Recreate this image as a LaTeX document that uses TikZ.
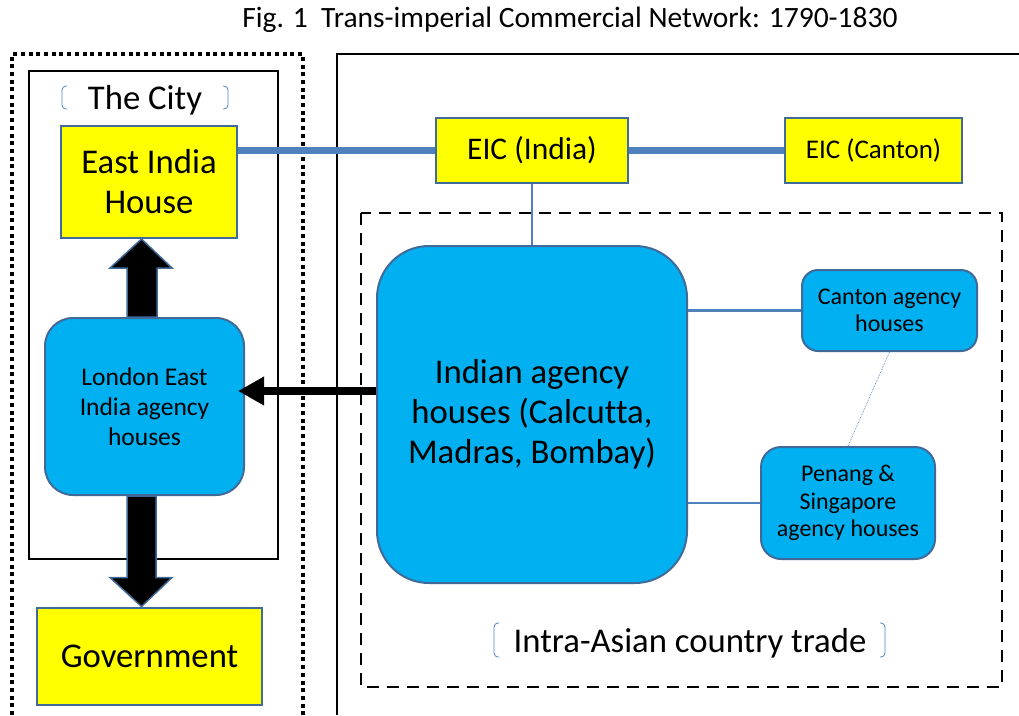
\documentclass[tikz,border=0pt]{standalone}
\usepackage{fontspec}
\setmainfont{Carlito}[Ligatures=NoCommon]
\usetikzlibrary{calc,arrows.meta}
\definecolor{boxyellow}{HTML}{FFFF00}
\definecolor{agencyblue}{HTML}{00B0F0}
\definecolor{edgeblue}{HTML}{3F6A9A}
\definecolor{linkblue}{HTML}{4F81BD}
\begin{document}
\begin{tikzpicture}[x=1pt,y=-1pt]
\tikzset{
yellow node/.style={rectangle,draw=edgeblue,line width=2pt,fill=boxyellow,inner sep=0,align=center},
agency node/.style={rectangle,rounded corners=#1,draw=edgeblue,line width=2pt,fill=agencyblue,inner sep=0,align=center},
agency node/.default=16pt,
big text/.style={font=\fontsize{34.7}{40}\selectfont},
mid text/.style={font=\fontsize{25.5}{30}\selectfont},
small text/.style={font=\fontsize{24}{27.5}\selectfont},
thick link/.style={draw=linkblue,line width=7pt},
thin link/.style={draw=linkblue,line width=2.8pt},
faint link/.style={draw=linkblue,line width=0.7pt,densely dotted},
block arrow/.style={fill=black,draw=edgeblue,line width=1.5pt,line join=miter},
flow arrow/.style={draw=black,line width=8pt,-{Triangle[length=26pt,width=27pt]}},
bracket/.style={draw=linkblue,line width=0.8pt,rounded corners=4pt},
dotted frame/.style={draw=black,line width=4pt,dash pattern=on 4pt off 3.7pt},
dashed frame/.style={draw=black,line width=2.5pt,dash pattern=on 12pt off 8pt}
}
\useasboundingbox (0,0) rectangle (1019,715);

% frames
\draw[dotted frame] (12,715) -- (12,54) -- (303,54) -- (303,715);
\draw[black,line width=2.5pt] (29,71) rectangle (278,559);
\draw[black,line width=2.5pt] (337,715) -- (337,54) -- (1019,54);
\draw[dashed frame] (361,213) rectangle (1002,687);

\node(title)[anchor=base,font=\fontsize{29.5}{34}\selectfont] at (570,27)
    {Fig. 1\ \ Trans-imperial Commercial Network: 1790-1830};

% the city side
\node(city)[anchor=base,big text] at (145,109) {The City};
\draw[bracket] ($(city.base)+(-78,-23)$) -- ++(-5,0) -- ++(0,23) -- ++(5,0);
\draw[bracket] ($(city.base)+(78,-23)$) -- ++(5,0) -- ++(0,23) -- ++(-5,0);
\node(eih)[yellow node,big text,minimum width=176pt,minimum height=112pt] at (149,182) {East India\\House};
\node(london)[agency node=28pt,mid text,minimum width=199pt,minimum height=177pt] at (144.5,406.5)
    {London East\\India agency\\houses};
\node(gov)[yellow node,big text,minimum width=225pt,minimum height=97pt] at (149.5,656) {Government};

% the company
\node(eicI)[yellow node,font=\fontsize{31.5}{36}\selectfont,minimum width=192pt,minimum height=65pt] at (532,150.5) {EIC (India)};
\node(eicC)[yellow node,font=\fontsize{27}{32}\selectfont,minimum width=177pt,minimum height=65pt] at (873.5,150.5) {EIC (Canton)};

% country trade
\node(indian)[agency node=52pt,big text,minimum width=310pt,minimum height=337pt] at (532,414.5)
    {Indian agency\\houses (Calcutta,\\Madras, Bombay)};
\node(canton)[agency node=16pt,small text,minimum width=175pt,minimum height=81pt] at (889.5,310.5)
    {Canton agency\\houses};
\node(penang)[agency node=20pt,small text,minimum width=174pt,minimum height=112pt] at (848,503)
    {Penang \&\\Singapore\\agency houses};
\node(intra)[anchor=base,big text] at (690,652) {Intra-Asian country trade};
\draw[bracket] ($(intra.base)+(-191,-29)$) -- ++(-5,0) -- ++(0,34) -- ++(5,0);
\draw[bracket] ($(intra.base)+(190,-29)$) -- ++(5,0) -- ++(0,34) -- ++(-5,0);

% links
\draw[thick link] (eicI.west) -- (eicI.west -| eih.east);
\draw[thick link] (eicI.east) -- (eicC.west);
\draw[thin link] (eicI.south) -- (indian.north);
\draw[thin link] ($(canton.north)+(4,0)$) -- ($(canton.north)+(4,0)$ |- eicC.south);
\draw[thin link] (canton.west) -- (canton.west -| indian.east);
\draw[thin link] (penang.west) -- (penang.west -| indian.east);
\draw[faint link] (canton.south) -- (penang.north);

% arrows
\draw[block arrow] let \p1=(london.north), \p2=(eih.south) in
    (\x1-17.5pt,\y1) -- (\x1-17.5pt,\y2-29pt) -- (\x1-34.5pt,\y2-29pt) -- (\x1-3pt,\y2)
    -- (\x1+27.5pt,\y2-29pt) -- (\x1+12.5pt,\y2-29pt) -- (\x1+12.5pt,\y1) -- cycle;
\draw[block arrow] let \p1=(london.south), \p2=(gov.north) in
    (\x1-17.5pt,\y1) -- (\x1-17.5pt,\y2+29pt) -- (\x1-34.5pt,\y2+29pt) -- (\x1-3pt,\y2)
    -- (\x1+27.5pt,\y2+29pt) -- (\x1+11.5pt,\y2+29pt) -- (\x1+11.5pt,\y1) -- cycle;
\draw[flow arrow] ($(indian.west)+(0,-23.5)$) -- ($(london.east)+(-7,-15.5)$);
\end{tikzpicture}
\end{document}
